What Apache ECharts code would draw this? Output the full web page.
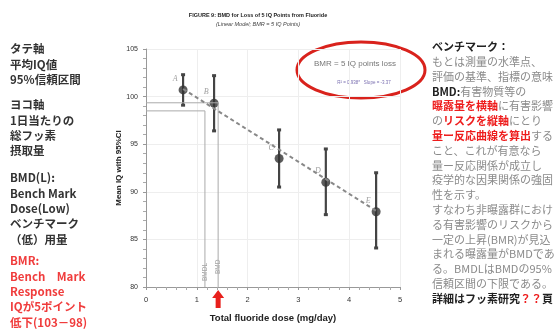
<!DOCTYPE html>
<html>
<head>
<meta charset="utf-8">
<script src="https://cdn.jsdelivr.net/npm/echarts@6/dist/echarts.min.js"></script>
<style>
  html, body { margin: 0; padding: 0; background: #fff; }
  #main { width: 557px; height: 329px; }
</style>
</head>
<body>
<div id="main"></div>
<script>
// data
const pointNames = ['A', 'B', 'C', 'D', 'E'];
const doses = [0.73, 1.34, 2.62, 3.54, 4.53];
const meanIQ = [100.7, 99.3, 93.5, 91.0, 87.9];
const ciLow = [99.1, 96.4, 90.5, 87.6, 84.1];
const ciHigh = [102.3, 102.2, 96.5, 94.5, 92.0];
const fitLine = [[0.73, 100.8], [4.53, 88.0]];
const bmd = 1.42, bmdIQ = 99.35;
const bmdl = 1.16, bmdlIQ = 98.5;
const xTicks = [0, 5, 1];   // min, max, step
const yTicks = [80, 105, 5];

const leftNotes = [
  ['タテ軸', '平均IQ値', '95%信頼区間'],
  ['ヨコ軸', '1日当たりの', '総フッ素', '摂取量'],
  ['BMD(L):', 'Bench Mark', 'Dose(Low)', 'ベンチマーク', '（低）用量']
];
const redNotes = ['BMR:', 'Bench　Mark', 'Response', 'IQが5ポイント', '低下(103－98)'];
const rightNotes = [
  '{k|ベンチマーク：}',
  '{g|もとは測量の水準点、}',
  '{g|評価の基準、指標の意味}',
  '{k|BMD:}{g|有害物質等の}',
  '{r|曝露量を横軸}{g|に有害影響}',
  '{g|の}{r|リスクを縦軸}{g|にとり}',
  '{r|量ー反応曲線を算出}{g|する}',
  '{g|こと、これが有意なら}',
  '{g|量ー反応関係が成立し}',
  '{g|疫学的な因果関係の強固}',
  '{g|性を示す。}',
  '{g|すなわち非曝露群におけ}',
  '{g|る有害影響のリスクから}',
  '{g|一定の上昇(BMR)が見込}',
  '{g|まれる曝露量がBMDであ}',
  '{g|る。BMDLはBMDの95%}',
  '{g|信頼区間の下限である。}',
  '{k|詳細はフッ素研究}{r|？？}{k|頁}'
];

const jp = '"Noto Sans CJK JP", "Liberation Sans", sans-serif';
const chart = echarts.init(document.getElementById('main'));

const points = doses.map((d, i) => ({ value: [d, meanIQ[i]], name: pointNames[i] }));
const bars = doses.map((d, i) => [d, ciLow[i], ciHigh[i]]);

// side notes, one text element per line
const notes = [];
function addColumn(lines, top, color) {
  lines.forEach((t, i) => notes.push({
    type: 'text', x: 10, y: top + i * 15.3,
    style: { text: t, font: 'bold 11.5px ' + jp, fill: color, verticalAlign: 'middle' }
  }));
}
addColumn(leftNotes[0], 49, '#333');
addColumn(leftNotes[1], 105, '#333');
addColumn(leftNotes[2], 178, '#333');
addColumn(redNotes, 261, '#f03c3c');
rightNotes.forEach((t, i) => notes.push({
  type: 'text', x: 432, y: 47 + i * 14.8,
  style: {
    text: t, verticalAlign: 'middle',
    rich: {
      k: { fontSize: 11, fontWeight: 'bold', fill: '#222', fontFamily: jp },
      g: { fontSize: 11, fill: '#8a8a8a', fontFamily: jp },
      r: { fontSize: 11, fontWeight: 'bold', fill: '#ee1c1c', fontFamily: jp }
    }
  }
}));

const option = {
  animation: false,
  backgroundColor: '#fff',
  grid: { left: 146, right: 157, top: 49, bottom: 42 },
  xAxis: {
    type: 'value', min: xTicks[0], max: xTicks[1], interval: xTicks[2],
    name: 'Total fluoride dose (mg/day)', nameLocation: 'middle', nameGap: 26,
    nameTextStyle: { fontSize: 9.5, fontWeight: 'bold', color: '#222', fontFamily: 'Liberation Sans' },
    axisLine: { lineStyle: { color: '#999' } },
    axisTick: { length: 3, lineStyle: { color: '#999' } },
    minorTick: { show: true, splitNumber: 5, length: 3, lineStyle: { color: '#aaa' } },
    axisLabel: { fontSize: 7.5, color: '#333', margin: 9, fontFamily: 'Liberation Sans' },
    splitLine: { lineStyle: { color: '#eee' } }
  },
  yAxis: {
    type: 'value', min: yTicks[0], max: yTicks[1], interval: yTicks[2],
    name: 'Mean IQ with 95%CI', nameLocation: 'middle', nameGap: 23,
    nameTextStyle: { fontSize: 8, fontWeight: 'bold', color: '#222', fontFamily: 'Liberation Sans' },
    axisLine: { show: true, lineStyle: { color: '#999' } },
    axisTick: { show: true, length: 3, lineStyle: { color: '#999' } },
    minorTick: { show: true, splitNumber: 5, length: 3, lineStyle: { color: '#aaa' } },
    axisLabel: { fontSize: 7, color: '#333', margin: 8, fontFamily: 'Liberation Sans' },
    splitLine: { lineStyle: { color: '#eee' } }
  },
  series: [
    {
      // BMD guide
      type: 'line', symbol: 'none', silent: true,
      data: [[0, bmdIQ], [bmd, bmdIQ], [bmd, yTicks[0]]],
      lineStyle: { color: '#aaa', width: 1 }
    },
    {
      // BMDL guide
      type: 'line', symbol: 'none', silent: true,
      data: [[0, bmdlIQ], [bmdl, bmdlIQ], [bmdl, yTicks[0]]],
      lineStyle: { color: '#aaa', width: 1 }
    },
    {
      type: 'line', symbol: 'none', data: fitLine,
      lineStyle: { color: '#888', width: 2, type: [4, 3] }
    },
    {
      type: 'custom',
      data: bars,
      renderItem: function (params, api) {
        const x = api.value(0);
        const top = api.coord([x, api.value(2)]);
        const bot = api.coord([x, api.value(1)]);
        const cap = { stroke: '#444', lineWidth: 3 };
        return {
          type: 'group',
          children: [
            { type: 'line', shape: { x1: top[0], y1: top[1], x2: bot[0], y2: bot[1] }, style: { stroke: '#444', lineWidth: 2.2 } },
            { type: 'line', shape: { x1: top[0] - 2, y1: top[1], x2: top[0] + 2, y2: top[1] }, style: cap },
            { type: 'line', shape: { x1: bot[0] - 2, y1: bot[1], x2: bot[0] + 2, y2: bot[1] }, style: cap }
          ]
        };
      }
    },
    {
      type: 'scatter', data: points, symbolSize: 9,
      itemStyle: { color: '#333' },
      label: {
        show: true, formatter: p => p.name, position: 'inside', offset: [-8, -11],
        fontSize: 8, fontStyle: 'italic', color: '#888', fontFamily: 'Liberation Serif'
      }
    },
    {
      type: 'scatter', symbolSize: 0, silent: true,
      data: [
        { value: [bmdl, 82], name: 'BMDL', label: { offset: [-4, 0] } },
        { value: [bmd, 81.7], name: 'BMD', label: { offset: [4, 0] } }
      ],
      label: {
        show: true, formatter: p => p.name, position: 'inside', rotate: 90,
        fontSize: 6.5, color: '#888', fontFamily: 'Liberation Sans'
      }
    }
  ],
  graphic: [
    {
      type: 'text', x: 258, y: 15,
      style: { text: 'FIGURE 9: BMD for Loss of 5 IQ Points from Fluoride', font: 'bold 5.5px "Liberation Sans"', fill: '#222', align: 'center', verticalAlign: 'middle' }
    },
    {
      type: 'text', x: 258, y: 24,
      style: { text: '(Linear Model; BMR = 5 IQ Points)', font: 'italic 5.5px "Liberation Sans"', fill: '#444', align: 'center', verticalAlign: 'middle' }
    },
    {
      type: 'ellipse', shape: { cx: 361, cy: 70, rx: 64, ry: 28 },
      style: { fill: 'none', stroke: '#d9221c', lineWidth: 3 }
    },
    {
      type: 'text', x: 355, y: 64,
      style: { text: 'BMR = 5 IQ points loss', font: '8px "Liberation Sans"', fill: '#777', align: 'center', verticalAlign: 'middle' }
    },
    {
      type: 'text', x: 364, y: 83,
      style: { text: 'R² = 0.938*   Slope = -3.37', font: '4.5px "Liberation Sans"', fill: '#7a6fb0', align: 'center', verticalAlign: 'middle' }
    }
  ].concat(notes)
};

chart.setOption(option);

// red arrow under the BMD dose
const base = chart.convertToPixel({ gridIndex: 0 }, [bmd, yTicks[0]]);
chart.setOption({
  graphic: option.graphic.concat([{
    type: 'polygon',
    shape: {
      points: [
        [base[0], base[1] + 3], [base[0] + 6, base[1] + 11], [base[0] + 2.5, base[1] + 11],
        [base[0] + 2.5, base[1] + 21], [base[0] - 2.5, base[1] + 21], [base[0] - 2.5, base[1] + 11],
        [base[0] - 6, base[1] + 11]
      ]
    },
    style: { fill: '#e8201c' }
  }])
});
</script>
</body>
</html>
